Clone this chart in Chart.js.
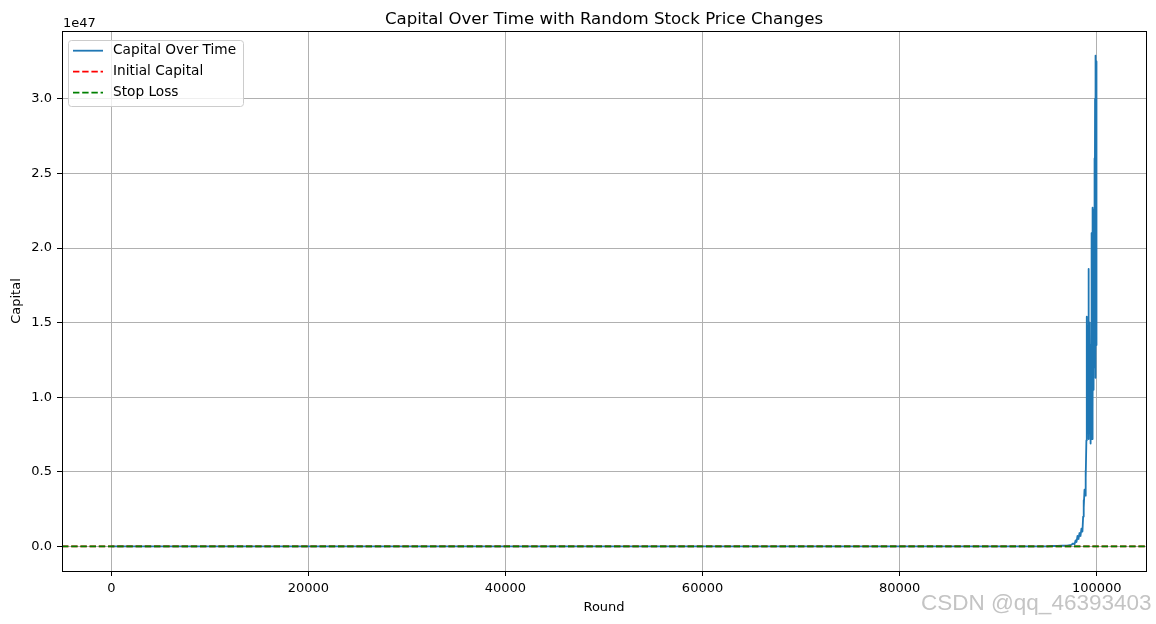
<!DOCTYPE html>
<html>
<head>
    <meta charset="utf-8">
    <script src="https://cdn.jsdelivr.net/npm/chart.js"></script>
    <title>Capital Over Time</title>
    <style>
        * { margin: 0; padding: 0; }
        body { width: 1156px; height: 624px; background: #fff; position: relative; overflow: hidden; }
        .chartBox { position: absolute; left: 0; top: 0; width: 1156px; height: 624px; }
        .mark {
            position: absolute; left: 921px; top: 590px;
            font-family: "Liberation Sans", sans-serif; font-size: 22.5px;
            color: #c4c4c4; white-space: nowrap;
        }
    </style>
</head>
<body>
    <div class="chartBox"><canvas id="chart" width="1156" height="624"></canvas></div>
    <div class="mark">CSDN @qq_46393403</div>
<script>
    // capital is in units of 1e47 (the axis offset text)
    const rounds = [0, 30000, 60000, 90000, 95000, 95500, 96000, 96500, 97000, 97400,
        97600, 97750, 97850, 97950, 98050, 98150, 98250, 98350, 98450, 98550,
        98620, 98660, 98700, 98760, 98820, 98860, 98900,
        98950, 98970, 98990, 99010, 99030, 99050, 99070, 99090, 99110, 99130,
        99150, 99170, 99190, 99210, 99230, 99250, 99270, 99290, 99310, 99330,
        99350, 99370, 99390, 99410, 99430, 99450, 99470, 99490, 99510, 99530,
        99550, 99570, 99590, 99610, 99630, 99650, 99670, 99690, 99710, 99730,
        99750, 99770, 99790, 99810, 99830, 99850, 99870, 99890, 99910, 99930,
        99950, 99970, 99985, 99999];
    const capital = [0, 0, 0, 0.0002, 0.001, 0.004, 0.003, 0.006, 0.005, 0.01,
        0.02, 0.015, 0.04, 0.03, 0.07, 0.05, 0.09, 0.07, 0.12, 0.10,
        0.20, 0.31, 0.26, 0.38, 0.34, 0.51, 0.46,
        0.71, 1.05, 0.82, 1.54, 0.90, 1.30, 0.95, 1.48, 0.80, 1.25,
        1.86, 0.72, 1.42, 0.98, 1.50, 0.88, 1.32, 0.76, 1.45, 0.92,
        1.28, 0.70, 1.20, 0.69, 1.35, 0.85, 1.60, 0.95, 2.10, 0.72,
        1.85, 1.00, 2.27, 0.90, 1.95, 1.15, 2.20, 1.05, 2.25, 1.25,
        2.05, 1.20, 2.60, 1.40, 3.00, 1.25, 3.29, 1.13, 3.15, 1.50,
        3.25, 1.35, 2.90, 2.30];
    const initialCapital = 0;
    const stopLoss = 0;
    const xRange = [-5000, 105000];
    const yRange = [-0.1645, 3.4545];
    const xTicks = [0, 20000, 40000, 60000, 80000, 100000];
    const yTicks = [0, 0.5, 1.0, 1.5, 2.0, 2.5, 3.0];

    const font = { family: '"DejaVu Sans", sans-serif', size: 13 };

    const data = {
        datasets: [{
            label: 'Capital Over Time',
            data: rounds.map((r, i) => ({ x: r, y: capital[i] })),
            borderColor: '#1f77b4',
            borderWidth: 1.8,
            borderJoinStyle: 'round',
            pointRadius: 0,
            order: 2
        }, {
            label: 'Initial Capital',
            data: xRange.map(r => ({ x: r, y: initialCapital })),
            borderColor: '#ff0000',
            borderWidth: 1.8,
            borderDash: [6.4, 2.8],
            pointRadius: 0,
            order: 1
        }, {
            label: 'Stop Loss',
            data: xRange.map(r => ({ x: r, y: stopLoss })),
            borderColor: '#008000',
            borderWidth: 1.8,
            borderDash: [6.4, 2.8],
            pointRadius: 0,
            order: 0
        }]
    };

    // title, frame, offset text and legend inside the axes
    const extras = {
        id: 'extras',
        afterDraw(chart) {
            const { ctx, chartArea: a } = chart;
            ctx.save();
            ctx.strokeStyle = '#000';
            ctx.lineWidth = 1;
            ctx.strokeRect(Math.round(a.left) + 0.5, Math.round(a.top) + 0.5,
                Math.round(a.right - a.left), Math.round(a.bottom - a.top));

            ctx.fillStyle = '#000';
            ctx.font = '16.6px "DejaVu Sans", sans-serif';
            ctx.textAlign = 'center';
            ctx.textBaseline = 'alphabetic';
            ctx.fillText('Capital Over Time with Random Stock Price Changes', (a.left + a.right) / 2, 23.5);

            ctx.font = '13px "DejaVu Sans", sans-serif';
            ctx.textAlign = 'left';
            ctx.fillText('1e47', a.left + 1, 26.5);

            // legend
            const lx = 68, ly = 40, lw = 175, lh = 66;
            ctx.beginPath();
            ctx.roundRect(lx + 0.5, ly + 0.5, lw, lh, 3);
            ctx.fillStyle = 'rgba(255,255,255,0.8)';
            ctx.fill();
            ctx.strokeStyle = '#cccccc';
            ctx.stroke();
            ctx.font = '13.7px "DejaVu Sans", sans-serif';
            chart.data.datasets.forEach((ds, i) => {
                const y = 50.7 + i * 21;
                ctx.beginPath();
                ctx.setLineDash(ds.borderDash || []);
                ctx.strokeStyle = ds.borderColor;
                ctx.lineWidth = ds.borderWidth;
                ctx.moveTo(73, y);
                ctx.lineTo(103, y);
                ctx.stroke();
                ctx.setLineDash([]);
                ctx.fillStyle = '#000';
                ctx.textBaseline = 'middle';
                ctx.fillText(ds.label, 113, y);
            });
            ctx.restore();
        }
    };

    const config = {
        type: 'line',
        data,
        options: {
            animation: false,
            responsive: false,
            layout: { padding: { top: 31, right: 10, bottom: 0, left: 0 } },
            plugins: { legend: { display: false }, tooltip: { enabled: false } },
            scales: {
                x: {
                    type: 'linear',
                    min: xRange[0],
                    max: xRange[1],
                    afterBuildTicks: axis => { axis.ticks = xTicks.map(v => ({ value: v })); },
                    afterFit: scale => { scale.height = 53; },
                    ticks: { color: '#000', font, padding: 5, maxRotation: 0, callback: v => String(v) },
                    grid: { color: '#b0b0b0', lineWidth: 1, tickColor: '#000', tickLength: 5 },
                    border: { display: false },
                    title: { display: true, text: 'Round', color: '#000', font, padding: { top: 0, bottom: 9 } }
                },
                y: {
                    type: 'linear',
                    min: yRange[0],
                    max: yRange[1],
                    afterBuildTicks: axis => { axis.ticks = yTicks.map(v => ({ value: v })); },
                    afterFit: scale => { scale.width = 62; },
                    ticks: { color: '#000', font, padding: 5, callback: v => v.toFixed(1) },
                    grid: { color: '#b0b0b0', lineWidth: 1, tickColor: '#000', tickLength: 5 },
                    border: { display: false },
                    title: { display: true, text: 'Capital', color: '#000', font, padding: { top: 9, bottom: 0 } }
                }
            }
        },
        plugins: [extras]
    };

    const chart = new Chart(document.getElementById('chart'), config);
</script>
</body>
</html>
